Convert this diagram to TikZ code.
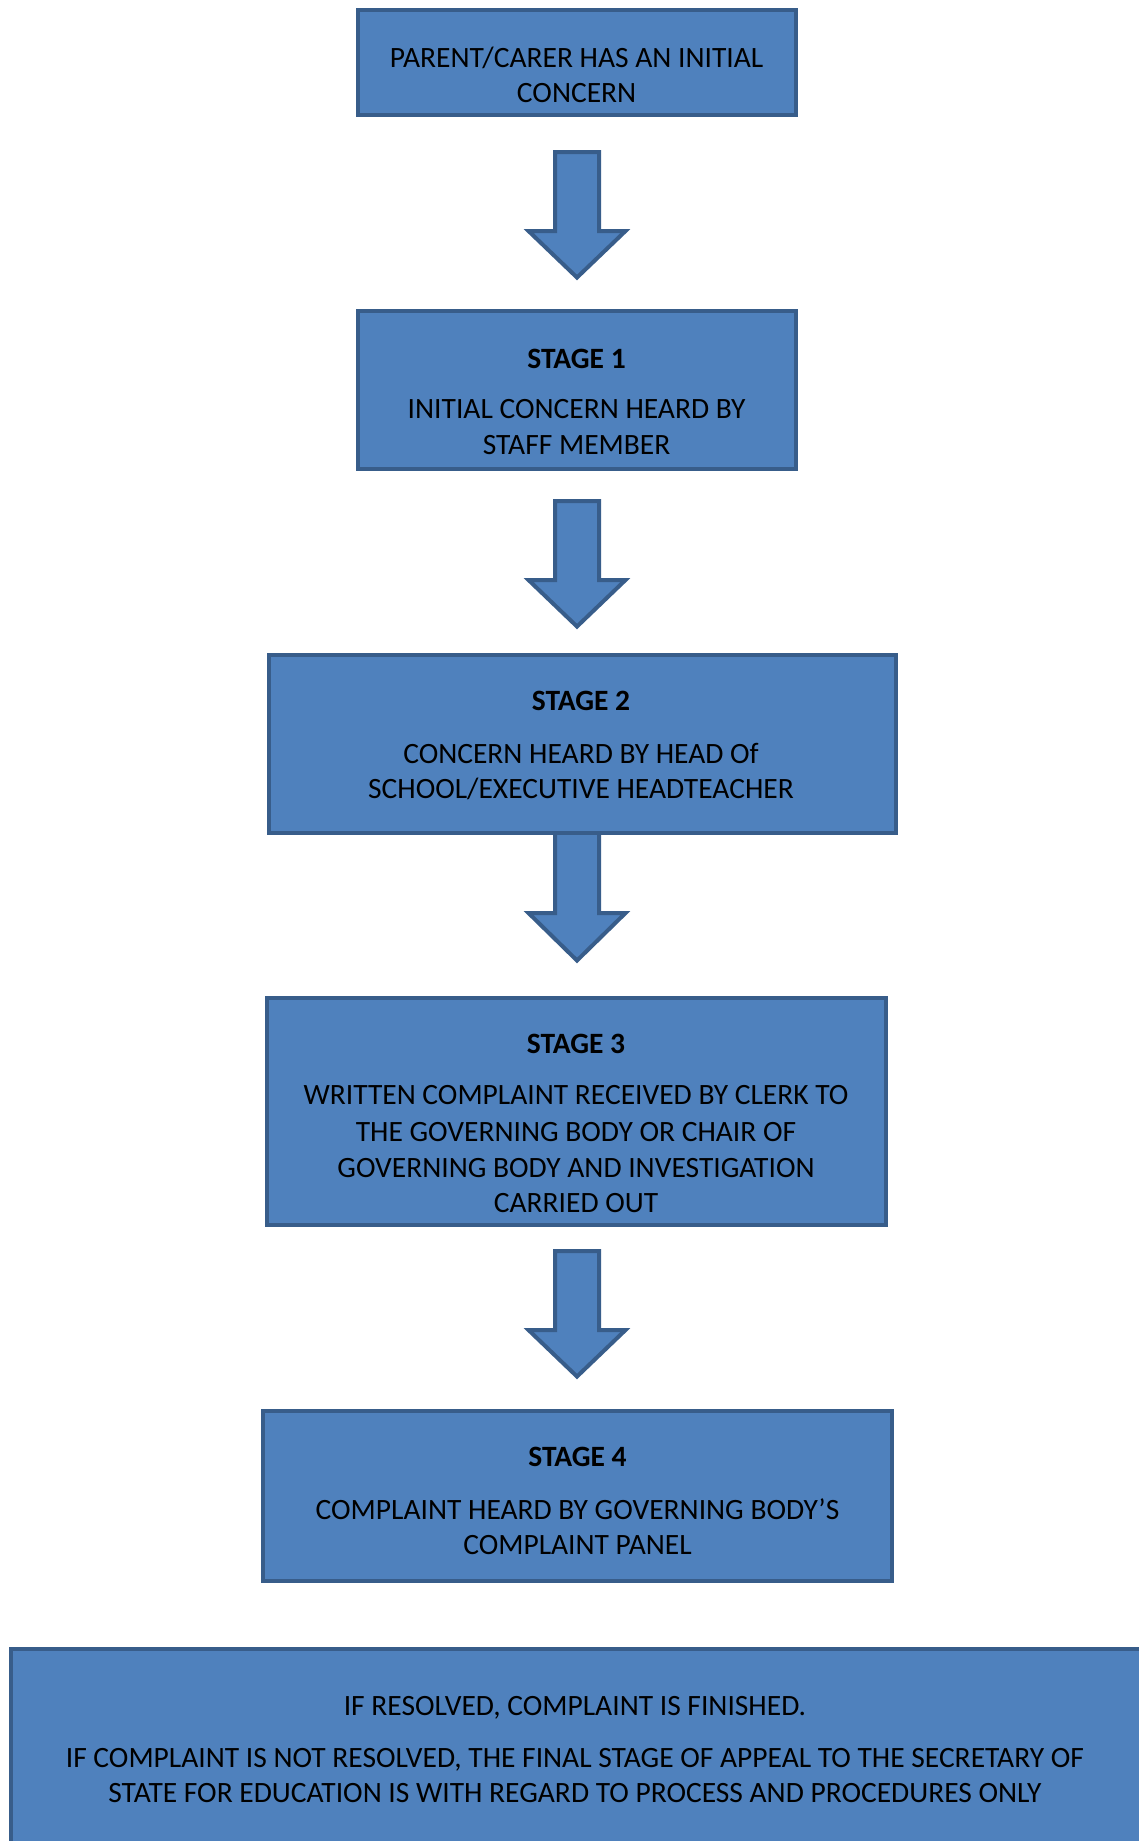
\documentclass[tikz,border=0pt]{standalone}
\usepackage{fontspec}
\setmainfont{Carlito}
\definecolor{boxfill}{HTML}{4F81BD}
\definecolor{boxline}{HTML}{385D8A}
\newcommand\flowarrow[4]{% name, top, head base, tip
  \coordinate (#1-top) at (577,#2);
  \coordinate (#1-tip) at (577,#4);
  \draw[blockarrow] (577-22,#2) -- (577+22,#2) -- (577+22,#3) -- (577+48.5,#3)
    -- (#1-tip) -- (577-48.5,#3) -- (577-22,#3) -- cycle;}
\begin{document}
\begin{tikzpicture}[x=1pt,y=-1pt,
  flowbox/.style={draw=boxline, fill=boxfill, line width=4pt, rectangle, inner sep=0pt},
  blockarrow/.style={draw=boxline, fill=boxfill, line width=4pt, line join=miter},
  txt/.style={anchor=base, inner sep=0pt, font=\fontsize{29.5}{35}\selectfont, text=black},
  stagetxt/.style={anchor=base, inner sep=0pt, font=\fontsize{29.5}{35}\selectfont\bfseries, text=black}]
\useasboundingbox (0,0) rectangle (1139,1841);
\clip (0,0) rectangle (1139,1841);
\fill[white] (0,0) rectangle (1139,1841);

% arrows
\flowarrow{a1}{152}{231}{277.5}
\flowarrow{a2}{501}{580}{626.5}
\flowarrow{a3}{830}{913}{960.5}
\flowarrow{a4}{1251}{1330}{1376.5}

% boxes
\node[flowbox, minimum width=438pt, minimum height=105pt] (b1) at (577,62.5) {};
\node[flowbox, minimum width=438pt, minimum height=158pt] (b2) at (577,390) {};
\node[flowbox, minimum width=627pt, minimum height=178pt] (b3) at (582.5,744) {};
\node[flowbox, minimum width=619pt, minimum height=227pt] (b4) at (576.5,1111.5) {};
\node[flowbox, minimum width=629pt, minimum height=170pt] (b5) at (577.5,1496) {};
\node[flowbox, minimum width=1149pt, minimum height=221pt] (b6) at (585.4,1759.4) {};

% texts
\node[txt] (t1a) at (576.6,67.2) {PARENT/CARER HAS AN INITIAL};
\node[txt] (t1b) at (576.6,102.7) {CONCERN};

\node[stagetxt] (t2s) at (576.6,368.7) {STAGE 1};
\node[txt] (t2a) at (576.6,418.7) {INITIAL CONCERN HEARD BY};
\node[txt] (t2b) at (576.6,454.2) {STAFF MEMBER};

\node[stagetxt] (t3s) at (581,710.2) {STAGE 2};
\node[txt] (t3a) at (581,763) {CONCERN HEARD BY HEAD Of};
\node[txt] (t3b) at (581,798.2) {SCHOOL/EXECUTIVE HEADTEACHER};

\node[stagetxt] (t4s) at (576,1053.2) {STAGE 3};
\node[txt] (t4a) at (576,1104.7) {WRITTEN COMPLAINT RECEIVED BY CLERK TO};
\node[txt] (t4b) at (576,1141.2) {THE GOVERNING BODY OR CHAIR OF};
\node[txt] (t4c) at (576,1177.6) {GOVERNING BODY AND INVESTIGATION};
\node[txt] (t4d) at (576,1212.7) {CARRIED OUT};

\node[stagetxt] (t5s) at (577.5,1466.4) {STAGE 4};
\node[txt] (t5a) at (577.5,1519.2) {COMPLAINT HEARD BY GOVERNING BODY’S};
\node[txt] (t5b) at (577.5,1554.4) {COMPLAINT PANEL};

\node[txt] (t6a) at (575,1715.4) {IF RESOLVED, COMPLAINT IS FINISHED.};
\node[txt] (t6b) at (575,1767) {IF COMPLAINT IS NOT RESOLVED, THE FINAL STAGE OF APPEAL TO THE SECRETARY OF};
\node[txt] (t6c) at (575,1802.2) {STATE FOR EDUCATION IS WITH REGARD TO PROCESS AND PROCEDURES ONLY};
\end{tikzpicture}
\end{document}
